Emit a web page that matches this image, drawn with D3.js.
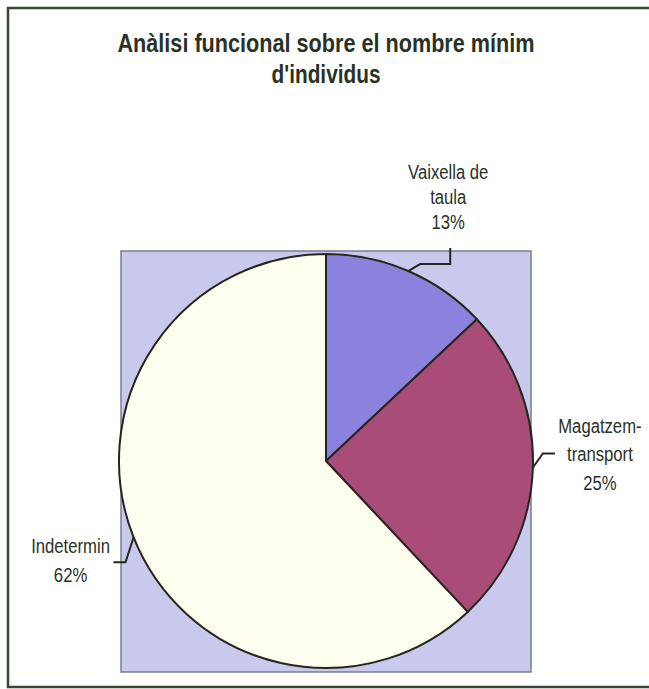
<!DOCTYPE html>
<html>
<head>
<meta charset="utf-8">
<script src="https://cdn.jsdelivr.net/npm/d3@7/dist/d3.min.js"></script>
<style>
  body { margin: 0; background: #ffffff; overflow: hidden; }
  svg { display: block; }
</style>
</head>
<body>
<div id="chart"></div>
<script>
// chart data
var titleLines = ["Anàlisi funcional sobre el nombre mínim", "d'individus"];
var categories = ["Vaixella de taula", "Magatzem-transport", "Indetermin"];
var values = [13, 25, 62];
var labelLines = [["Vaixella de", "taula", "13%"], ["Magatzem-", "transport", "25%"], ["Indetermin", "62%"]];
var colors = ["#8b82de", "#a94c78", "#fffff0"];

var svgWidth = 649, svgHeight = 689;
var plot = { x: 121, y: 251, w: 410, h: 421 };
var cx = 326, cy = 461, radius = 207;
var textColor = "#2a3225";
var font = "'Liberation Sans', Arial, sans-serif";
var squeeze = 0.855;   // the original used a narrow face

var svg = d3.select("#chart")
  .append("svg")
  .attr("width", svgWidth)
  .attr("height", svgHeight);

// outer frame (right side runs off the page)
svg.append("rect")
  .attr("x", 8)
  .attr("y", 8)
  .attr("width", 700)
  .attr("height", 679)
  .attr("fill", "#ffffff")
  .attr("stroke", "#3b4733")
  .attr("stroke-width", 2.5);

// title
var titleWidths = [417, 109];
svg.append("g").selectAll("text")
  .data(titleLines)
  .enter().append("text")
  .attr("x", 326)
  .attr("y", function(d, i) { return 52 + i * 31; })
  .attr("text-anchor", "middle")
  .attr("font-family", font)
  .attr("font-weight", "bold")
  .attr("font-size", 25)
  .attr("textLength", function(d, i) { return titleWidths[i]; })
  .attr("lengthAdjust", "spacingAndGlyphs")
  .attr("fill", textColor)
  .text(function(d) { return d; });

// plot area
svg.append("rect")
  .attr("x", plot.x)
  .attr("y", plot.y)
  .attr("width", plot.w)
  .attr("height", plot.h)
  .attr("fill", "#c9c9ee")
  .attr("stroke", "#7d7d8a")
  .attr("stroke-width", 1.5);

var pie = d3.pie().sort(null).value(function(d) { return d; });
var arcs = pie(values);
var arc = d3.arc().innerRadius(0).outerRadius(radius);

var g = svg.append("g")
  .attr("transform", "translate(" + cx + "," + cy + ")");

g.selectAll("path.slice")
  .data(arcs)
  .enter().append("path")
  .attr("class", "slice")
  .attr("d", arc)
  .attr("fill", function(d, i) { return colors[i]; })
  .attr("stroke", "#26261f")
  .attr("stroke-width", 2)
  .attr("stroke-linejoin", "round");

// leader lines: elbow offsets from the point on the rim
var leaders = [
  [[12, -7], [42, -7], [42, -23]],
  [[10, -14], [22, -14]],
  [[-8, 25], [-20, 25]]
];
// label block anchor relative to the rim point, and line height
var labelOffsets = [[40, -92], [67, -35], [-63, 16]];
var lineH = [25, 29, 29];

function rim(d) {
  var a = (d.startAngle + d.endAngle) / 2;
  return [Math.sin(a) * radius, -Math.cos(a) * radius];
}

g.selectAll("path.leader")
  .data(arcs)
  .enter().append("path")
  .attr("class", "leader")
  .attr("d", function(d, i) {
    var p = rim(d);
    var pts = [p].concat(leaders[i].map(function(o) { return [p[0] + o[0], p[1] + o[1]]; }));
    return d3.line()(pts);
  })
  .attr("fill", "none")
  .attr("stroke", "#26261f")
  .attr("stroke-width", 2);

var labels = g.selectAll("g.label")
  .data(arcs)
  .enter().append("g")
  .attr("class", "label")
  .attr("transform", function(d, i) {
    var p = rim(d);
    return "translate(" + (p[0] + labelOffsets[i][0]) + "," + (p[1] + labelOffsets[i][1]) + ") scale(" + squeeze + ",1)";
  })
  .append("text")
  .attr("text-anchor", "middle")
  .attr("font-family", font)
  .attr("font-size", 19.5)
  .attr("fill", textColor);

labels.each(function(d, i) {
  var t = d3.select(this);
  labelLines[i].forEach(function(line, j) {
    t.append("tspan")
      .attr("x", 0)
      .attr("y", j * lineH[i])
      .text(line);
  });
});
</script>
</body>
</html>
